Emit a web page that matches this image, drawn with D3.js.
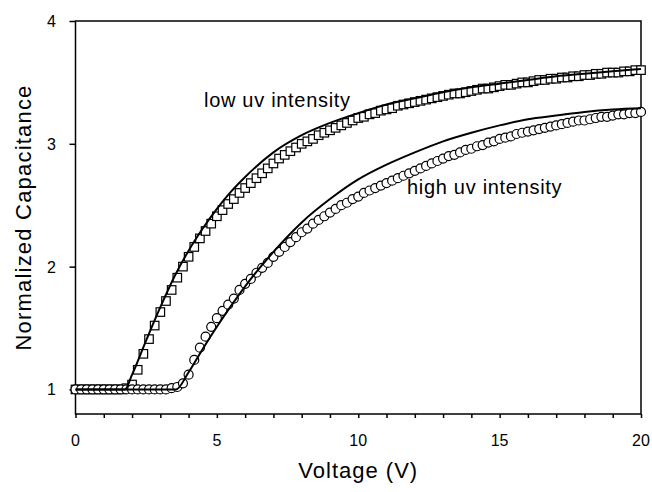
<!DOCTYPE html>
<meta charset="utf-8">
<head> <title> Normalized Capacitance vs Voltage </title>
<style>

body { margin: 0; background: #fff; }

text {
  font-family: "Liberation Sans", Arial, sans-serif;
  fill: #000;
}

.axis path, .axis line {
  stroke: #000;
  stroke-width: 1.5px;
}

.fit {
  fill: none;
  stroke: #000;
  stroke-width: 2px;
}

.pts rect, .pts circle {
  fill: #fff;
  stroke: #000;
  stroke-width: 1.2px;
}

</style>
<svg width="652" height="492"></svg>
<script src="https://d3js.org/d3.v7.min.js"></script>
<script>

// measured voltages (V), one sample every 0.2 V
var voltage = [0,0.2,0.4,0.6,0.8,1,1.2,1.4,1.6,1.8,2,2.2,2.4,2.6,2.8,3,3.2,3.4,3.6,3.8,
  4,4.2,4.4,4.6,4.8,5,5.2,5.4,5.6,5.8,6,6.2,6.4,6.6,6.8,7,7.2,7.4,7.6,7.8,
  8,8.2,8.4,8.6,8.8,9,9.2,9.4,9.6,9.8,10,10.2,10.4,10.6,10.8,11,11.2,11.4,11.6,11.8,
  12,12.2,12.4,12.6,12.8,13,13.2,13.4,13.6,13.8,14,14.2,14.4,14.6,14.8,15,15.2,15.4,15.6,15.8,
  16,16.2,16.4,16.6,16.8,17,17.2,17.4,17.6,17.8,18,18.2,18.4,18.6,18.8,19,19.2,19.4,19.6,19.8,20];

// low uv intensity (squares)
var lowUv = [1,1,1,1,1,1,1,1,1,1.01,1.04,1.16,1.29,1.41,1.52,1.63,1.72,1.81,1.91,2.00,
  2.08,2.16,2.23,2.29,2.35,2.41,2.46,2.51,2.55,2.60,2.64,2.68,2.72,2.76,2.80,2.84,2.88,2.91,2.94,2.97,
  3.00,3.02,3.04,3.07,3.09,3.11,3.13,3.15,3.17,3.19,3.21,3.22,3.24,3.25,3.27,3.28,3.29,3.31,3.32,3.33,
  3.34,3.35,3.36,3.37,3.38,3.39,3.40,3.41,3.41,3.42,3.43,3.44,3.45,3.45,3.46,3.47,3.48,3.48,3.49,3.50,
  3.50,3.51,3.52,3.52,3.53,3.53,3.54,3.54,3.55,3.55,3.56,3.56,3.57,3.57,3.58,3.58,3.58,3.59,3.59,3.60,3.60];

// high uv intensity (circles)
var highUv = [1,1,1,1,1,1,1,1,1,1,1,1,1,1,1,1,1,1.01,1.02,1.05,
  1.12,1.24,1.34,1.43,1.51,1.58,1.64,1.69,1.74,1.81,1.86,1.90,1.95,1.99,2.03,2.08,2.12,2.16,2.20,2.24,
  2.28,2.31,2.35,2.38,2.41,2.44,2.47,2.50,2.52,2.55,2.57,2.60,2.62,2.64,2.66,2.68,2.70,2.72,2.74,2.76,
  2.78,2.80,2.82,2.84,2.86,2.88,2.90,2.91,2.93,2.95,2.96,2.98,2.99,3.01,3.02,3.04,3.05,3.06,3.08,3.09,
  3.10,3.11,3.12,3.13,3.14,3.15,3.16,3.17,3.18,3.19,3.19,3.20,3.21,3.22,3.22,3.23,3.24,3.24,3.25,3.25,3.26];

// model fits (solid lines)
var lowFitV = [0,1.75,2,2.5,3,3.5,4,4.5,5,5.5,6,7,8,9,10,11,12,13,14,15,16,17,18,19,20];
var lowFitC = [1,1,1.12,1.40,1.67,1.92,2.13,2.31,2.47,2.61,2.73,2.93,3.07,3.17,3.25,3.32,3.37,3.42,3.46,3.49,3.52,3.55,3.57,3.59,3.61];
var highFitV = [0,3.55,4,4.5,5,5.5,6,7,8,9,10,11,12,13,14,15,16,17,18,19,20];
var highFitC = [1,1,1.14,1.33,1.51,1.68,1.84,2.12,2.36,2.55,2.71,2.83,2.93,3.02,3.09,3.15,3.20,3.23,3.26,3.28,3.29];

var xTicks = [0,5,10,15,20];
var yTicks = [1,2,3,4];

var svg = d3.select("svg"),
    plotL = 75.5, plotR = 641, plotT = 21, plotB = 414;

var x = d3.scaleLinear().domain([0,20]).range([plotL,plotR]);
var y = d3.scaleLinear().domain([0.8,4]).range([plotB,plotT]);

//frame
svg.append("rect")
  .attr("x", plotL).attr("y", plotT)
  .attr("width", plotR-plotL).attr("height", plotB-plotT)
  .attr("fill", "none").attr("stroke", "#000").attr("stroke-width", 1.5);

//x axis: small ticks every volt, labels every 5
svg.append("g").attr("class","axis")
  .attr("transform","translate(0," + plotB + ")")
  .call(d3.axisBottom(x).tickValues(d3.range(0,21,1)).tickSize(4).tickFormat(""))
  .call(function(g){ g.select(".domain").remove(); });

svg.append("g").selectAll("text")
  .data(xTicks).enter().append("text")
  .attr("x", function(d){ return x(d); })
  .attr("y", 446)
  .attr("text-anchor","middle")
  .style("font-size","16px")
  .text(function(d){ return d; });

svg.append("g").attr("class","axis")
  .attr("transform","translate(" + plotL + ",0)")
  .call(d3.axisLeft(y).tickValues(yTicks).tickSize(6).tickFormat(""))
  .call(function(g){ g.select(".domain").remove(); });

svg.append("g").selectAll("text")
  .data(yTicks).enter().append("text")
  .attr("x", 56)
  .attr("y", function(d){ return y(d) + 6; })
  .attr("text-anchor","end")
  .style("font-size","16px")
  .text(function(d){ return d; });

//axis titles
svg.append("text")
  .attr("x", (plotL+plotR)/2).attr("y", 478)
  .attr("text-anchor","middle")
  .style("font-size","22px")
  .style("letter-spacing","1px")
  .text("Voltage (V)");

svg.append("text")
  .attr("transform","translate(31," + ((plotT+plotB)/2) + ") rotate(-90)")
  .attr("text-anchor","middle")
  .style("font-size","22px")
  .style("letter-spacing","1.2px")
  .text("Normalized Capacitance");

//markers
var sq = 8.5;
svg.append("g").attr("class","pts")
  .selectAll("rect")
  .data(voltage).enter().append("rect")
  .attr("x", function(d){ return x(d) - sq/2; })
  .attr("y", function(d,i){ return y(lowUv[i]) - sq/2; })
  .attr("width", sq).attr("height", sq);

svg.append("g").attr("class","pts")
  .selectAll("circle")
  .data(voltage).enter().append("circle")
  .attr("cx", function(d){ return x(d); })
  .attr("cy", function(d,i){ return y(highUv[i]); })
  .attr("r", 4.5);

//fit lines on top
var line = d3.line()
  .x(function(d){ return x(d[0]); })
  .y(function(d){ return y(d[1]); })
  .curve(d3.curveMonotoneX);

svg.append("path").attr("class","fit")
  .attr("d", line(d3.zip(lowFitV, lowFitC)));
svg.append("path").attr("class","fit")
  .attr("d", line(d3.zip(highFitV, highFitC)));

//labels
svg.append("text")
  .attr("x", 204).attr("y", 107)
  .style("font-size","20px")
  .style("letter-spacing","0.7px")
  .text("low uv intensity");

svg.append("text")
  .attr("x", 407).attr("y", 194)
  .style("font-size","20px")
  .style("letter-spacing","0.7px")
  .text("high uv intensity");

</script>
</head>
